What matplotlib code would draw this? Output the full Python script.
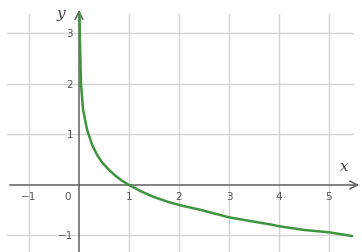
import matplotlib.pyplot as plt

# curve points
xs = [0.01, 0.02, 0.04, 0.08, 0.16, 0.26, 0.36, 0.46, 0.6, 0.72, 0.85, 1.0,
      1.25, 1.5, 1.8, 2.06, 2.42, 3.0, 3.4, 3.82, 4.02, 4.5, 5.02, 5.46]
ys = [3.4, 2.8, 2.0, 1.5, 1.1, 0.8, 0.6, 0.45, 0.3, 0.19, 0.09, 0.0,
      -0.13, -0.24, -0.34, -0.41, -0.49, -0.64, -0.71, -0.78, -0.82, -0.89, -0.94, -1.01]

xticks = [-1, 1, 2, 3, 4, 5]
yticks = [-1, 1, 2, 3]

fig = plt.figure(figsize=(3.62, 2.53), dpi=100)
ax = fig.add_axes([0, 0, 1, 1])
ax.set_xlim(-1.58, 5.66)
ax.set_ylim(-1.327, 3.683)
ax.axis('off')

gridc = '#d4d4d4'
for x in xticks:
    ax.plot([x, x], [-1.4, 3.39], color=gridc, lw=1.0, zorder=1)
for y in yticks:
    ax.plot([-1.44, 5.48], [y, y], color=gridc, lw=1.0, zorder=1)

axc = '#606060'
ax.annotate('', xy=(5.66, 0), xytext=(-1.44, 0),
            arrowprops=dict(arrowstyle='->', color=axc, lw=1.1, mutation_scale=14), zorder=2)
ax.annotate('', xy=(0, 3.52), xytext=(0, -1.4),
            arrowprops=dict(arrowstyle='->', color=axc, lw=1.1, mutation_scale=14), zorder=2)

ax.plot(xs, ys, color='#3f9440', lw=1.8, zorder=3, solid_capstyle='round')

labc = '#555555'
for x in xticks:
    ax.text(x, -0.22, '\u22121' if x < 0 else str(x), ha='center', va='center',
            fontsize=7.5, color=labc)
ax.text(-0.22, -0.22, '0', ha='center', va='center', fontsize=7.5, color=labc)
for y in yticks:
    ax.text(-0.12, y, '\u22121' if y < 0 else str(y), ha='right', va='center',
            fontsize=7.5, color=labc)

ax.text(-0.36, 3.4, 'y', fontsize=11, style='italic', family='DejaVu Serif',
        color='#444444', ha='center', va='center')
ax.text(5.3, 0.38, 'x', fontsize=11, style='italic', family='DejaVu Serif',
        color='#444444', ha='center', va='center')

fig.savefig('out.png', dpi=100)
